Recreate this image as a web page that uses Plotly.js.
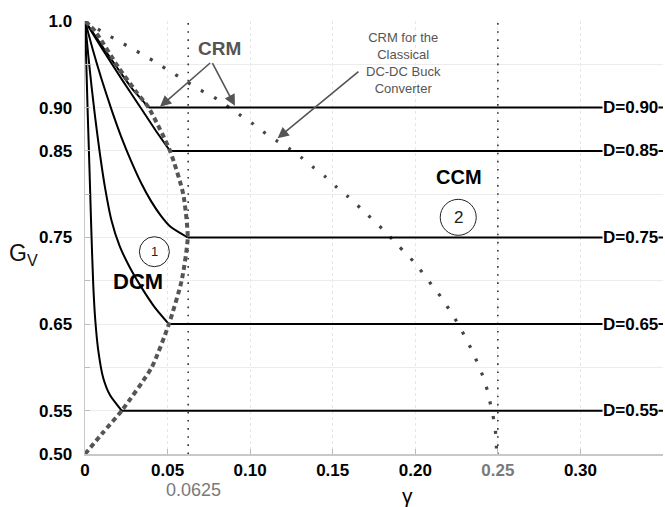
<!DOCTYPE html>
<html>
<head>
<meta charset="utf-8">
<script src="https://cdn.plot.ly/plotly-3.0.1.min.js"></script>
<style>html,body{margin:0;padding:0;background:#fff;}#chart{width:665px;height:507px;}</style>
</head>
<body>
<div id="chart"></div>
<script>
// ---- data ----
const dutyValues = [0.90, 0.85, 0.75, 0.65, 0.55];
const dutyLabels = ["D=0.90", "D=0.85", "D=0.75", "D=0.65", "D=0.55"];
// gamma where each D reaches the CRM boundary (start of CCM horizontal)
const crmGamma = [0.0385, 0.0515, 0.0622, 0.0508, 0.0222];
const ccmEndGamma = 0.35;

// DCM curves (gamma, Gv) for each D
const dcm090Gamma = [0, 0.005, 0.0115, 0.0195, 0.0285, 0.0345, 0.0385];
const dcm090Gv    = [1, 0.986, 0.968, 0.946, 0.922, 0.909, 0.90];
const dcm085Gamma = [0, 0.0101, 0.0225, 0.034, 0.043, 0.0515];
const dcm085Gv    = [1, 0.969, 0.932, 0.899, 0.873, 0.85];
const dcm075Gamma = [0, 0.005, 0.010, 0.016, 0.022, 0.028, 0.034, 0.040, 0.046, 0.052, 0.0622];
const dcm075Gv    = [1, 0.965, 0.933, 0.898, 0.866, 0.838, 0.813, 0.792, 0.775, 0.762, 0.75];
const dcm065Gamma = [0, 0.002, 0.004, 0.006, 0.009, 0.012, 0.016, 0.021, 0.027, 0.034, 0.042, 0.0508];
const dcm065Gv    = [1, 0.96, 0.924, 0.891, 0.847, 0.809, 0.770, 0.740, 0.716, 0.693, 0.670, 0.65];
const dcm055Gamma = [0, 0.0008, 0.0017, 0.0027, 0.0038, 0.005, 0.0062, 0.008, 0.011, 0.0151, 0.0222];
const dcm055Gv    = [1, 0.95, 0.89, 0.83, 0.76, 0.695, 0.655, 0.62, 0.588, 0.568, 0.55];

// CRM boundary of this converter (thick dashed)
const crmBoundaryGamma = [0, 0.011, 0.0222, 0.0404, 0.0508, 0.0585, 0.0622, 0.0595, 0.0515, 0.0385, 0.0315, 0.0204, 0.0062, 0];
const crmBoundaryGv    = [0.5, 0.525, 0.55, 0.6, 0.65, 0.7, 0.75, 0.8, 0.85, 0.9, 0.917, 0.946, 0.988, 1.0];

// CRM of the classical buck converter (dotted)
const buckGamma = [0, 0.0101, 0.0182, 0.0258, 0.0333, 0.0414, 0.0488, 0.0565, 0.064, 0.072, 0.0797, 0.0942, 0.1019, 0.1094, 0.1166, 0.1241, 0.1312, 0.1382, 0.1457, 0.1524, 0.1594, 0.169, 0.180, 0.190, 0.200, 0.2108, 0.2165, 0.2214, 0.2264, 0.2304, 0.2345, 0.2381, 0.2411, 0.2437, 0.2458, 0.2476, 0.2488, 0.2492];
const buckGv    = [1, 0.988, 0.979, 0.971, 0.963, 0.954, 0.945, 0.936, 0.927, 0.918, 0.910, 0.891, 0.881, 0.870, 0.861, 0.852, 0.842, 0.831, 0.820, 0.808, 0.797, 0.78, 0.76, 0.74, 0.72, 0.693, 0.679, 0.664, 0.649, 0.634, 0.619, 0.603, 0.589, 0.573, 0.555, 0.539, 0.521, 0.503];

// reference verticals
const refGamma = [0.0625, 0.25];

// ticks
const gammaTicks = [0, 0.05, 0.10, 0.15, 0.20, 0.25, 0.30, 0.35];
const gammaTickText = ["0", "0.05", "0.10", "0.15", "0.20", "<span style='color:#7a7a7a'>0.25</span>", "0.30", ""];
const gvTicks = [0.50, 0.55, 0.60, 0.65, 0.70, 0.75, 0.80, 0.85, 0.90, 0.95, 1.0];
const gvTickText = ["0.50", "0.55", "", "0.65", "", "0.75", "", "0.85", "0.90", "", "1.0"];

// ---- build traces ----
const FONT = "Liberation Sans, Arial, Helvetica, sans-serif";
const traces = [];

refGamma.forEach(g => {
  traces.push({x: [g, g], y: [0.5, 1.0], mode: 'lines',
    line: {color: '#333', width: 1.6, dash: '1.6px,6.5px'}});
});

traces.push({x: buckGamma, y: buckGv, mode: 'lines', line: {color: '#444', width: 3.2, dash: '3px,12px', shape: 'spline', smoothing: 0.6}});

const dcmG = [dcm090Gamma, dcm085Gamma, dcm075Gamma, dcm065Gamma, dcm055Gamma];
const dcmV = [dcm090Gv, dcm085Gv, dcm075Gv, dcm065Gv, dcm055Gv];
for (let i = 0; i < dutyValues.length; i++) {
  traces.push({x: dcmG[i], y: dcmV[i], mode: 'lines', line: {color: '#000', width: 2, shape: 'spline', smoothing: 0.6}});
  traces.push({x: [crmGamma[i], ccmEndGamma], y: [dutyValues[i], dutyValues[i]], mode: 'lines', line: {color: '#000', width: 2}});
}

traces.push({x: crmBoundaryGamma, y: crmBoundaryGv, mode: 'lines', line: {color: '#555', width: 4, dash: '5px,3.5px', shape: 'spline', smoothing: 0.6}});

// ---- annotations ----
const labelGamma = 0.313;
const annotations = dutyValues.map((d, i) => ({
  x: labelGamma, y: d, xref: 'x', yref: 'y', xanchor: 'left', yanchor: 'middle',
  text: '<b>' + dutyLabels[i] + '</b>', showarrow: false, bgcolor: '#fff', borderpad: 0,
  font: {family: FONT, size: 17, color: '#000'}
}));

annotations.push(
  {x: 0.0817, y: 0.968, xref: 'x', yref: 'y', text: '<b>CRM</b>', showarrow: false, font: {family: FONT, size: 19, color: '#555'}},
  {x: 0.0454, y: 0.901, ax: 0.0767, ay: 0.953, xref: 'x', yref: 'y', axref: 'x', ayref: 'y', text: '', showarrow: true, arrowhead: 2, arrowsize: 1.4, arrowwidth: 1.6, arrowcolor: '#555'},
  {x: 0.0908, y: 0.902, ax: 0.0767, ay: 0.953, xref: 'x', yref: 'y', axref: 'x', ayref: 'y', text: '', showarrow: true, arrowhead: 2, arrowsize: 1.4, arrowwidth: 1.6, arrowcolor: '#555'},
  {x: 0.1927, y: 0.951, xref: 'x', yref: 'y', text: 'CRM for the<br>Classical<br>DC-DC Buck<br>Converter', showarrow: false, align: 'center', font: {family: FONT, size: 13, color: '#555'}},
  {x: 0.1166, y: 0.8645, ax: 0.1665, ay: 0.943, xref: 'x', yref: 'y', axref: 'x', ayref: 'y', text: '', showarrow: true, arrowhead: 2, arrowsize: 1.4, arrowwidth: 1.6, arrowcolor: '#555'},
  {x: 0.2266, y: 0.8195, xref: 'x', yref: 'y', text: '<b>CCM</b>', showarrow: false, font: {family: FONT, size: 20, color: '#000'}},
  {x: 0.226, y: 0.7733, xref: 'x', yref: 'y', text: '2', showarrow: false, font: {family: FONT, size: 17, color: '#222'}},
  {x: 0.042, y: 0.7336, xref: 'x', yref: 'y', text: '1', showarrow: false, font: {family: FONT, size: 13, color: '#222'}},
  {x: 0.0321, y: 0.699, xref: 'x', yref: 'y', text: '<b>DCM</b>', showarrow: false, font: {family: FONT, size: 22, color: '#000'}},
  {x: 0.0625, y: 0, xref: 'x', yref: 'paper', xshift: 5, yshift: -36, xanchor: 'center', yanchor: 'middle', text: '0.0625', showarrow: false, font: {family: FONT, size: 18, color: '#7a7a7a'}},
  {x: 0.195, y: 0, xref: 'x', yref: 'paper', yshift: -41, xanchor: 'center', yanchor: 'middle', text: 'γ', showarrow: false, font: {family: FONT, size: 21, color: '#000'}},
  {x: -0.107, y: 0.46, xref: 'paper', yref: 'paper', xanchor: 'center', yanchor: 'middle', text: 'G<sub>V</sub>', showarrow: false, font: {family: FONT, size: 23, color: '#111'}}
);

const shapes = [
  {type: 'circle', xref: 'x', yref: 'y', xsizemode: 'pixel', ysizemode: 'pixel', xanchor: 0.226, yanchor: 0.7733, x0: -18, x1: 18, y0: -18, y1: 18, line: {color: '#222', width: 1}},
  {type: 'circle', xref: 'x', yref: 'y', xsizemode: 'pixel', ysizemode: 'pixel', xanchor: 0.042, yanchor: 0.7336, x0: -15, x1: 15, y0: -15, y1: 15, line: {color: '#222', width: 1}}
];

const layout = {
  width: 665, height: 507,
  margin: {l: 85, r: 2, t: 21, b: 53},
  paper_bgcolor: '#fff', plot_bgcolor: '#fff',
  showlegend: false, hovermode: false,
  font: {family: FONT, color: '#000'},
  xaxis: {
    range: [0, 0.35], tickvals: gammaTicks, ticktext: gammaTickText,
    ticks: 'inside', ticklen: 5, tickcolor: '#bbb', tickwidth: 1,
    showline: true, linecolor: '#c8c8c8', linewidth: 1.5,
    showgrid: true, gridcolor: '#e6e6e6', griddash: 'dot', zeroline: false,
    tickfont: {family: FONT, size: 17, color: '#000', weight: 'bold'}, ticklabelstandoff: 0
  },
  yaxis: {
    range: [0.5, 1.0], tickvals: gvTicks, ticktext: gvTickText,
    ticks: 'inside', ticklen: 5, tickcolor: '#bbb', tickwidth: 1,
    showline: true, linecolor: '#c8c8c8', linewidth: 1.5,
    showgrid: true, gridcolor: '#ececec', zeroline: false,
    tickfont: {family: FONT, size: 17, color: '#000', weight: 'bold'}, ticklabelstandoff: 8
  },
  annotations: annotations,
  shapes: shapes
};

Plotly.newPlot('chart', traces, layout, {displayModeBar: false, staticPlot: true});
</script>
</body>
</html>
